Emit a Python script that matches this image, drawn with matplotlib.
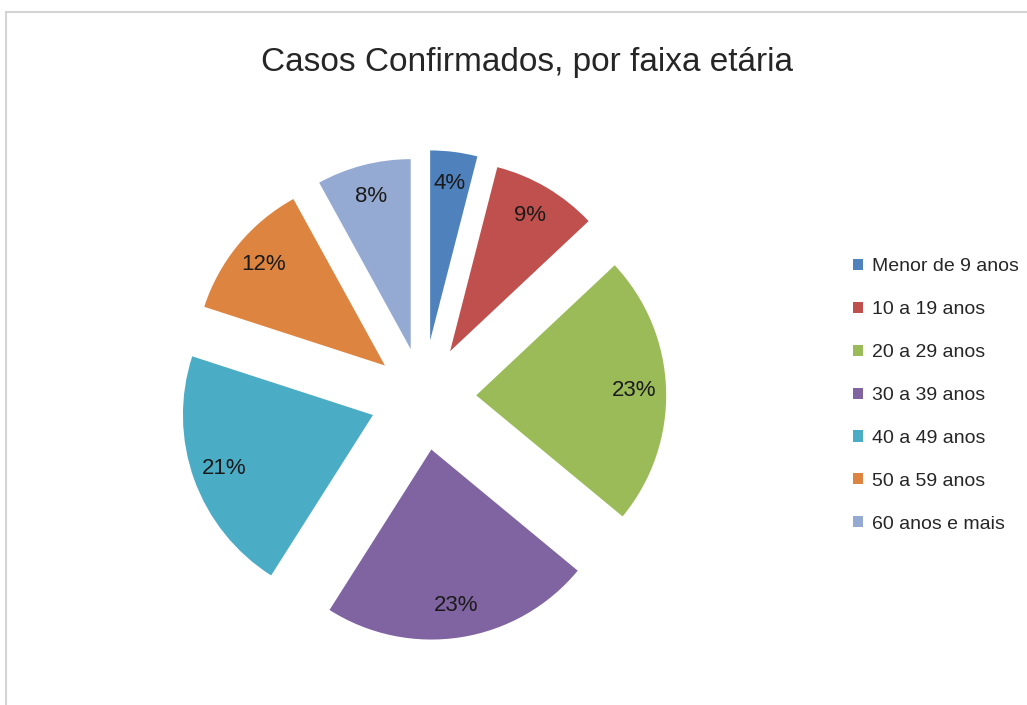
import numpy as np
import matplotlib.pyplot as plt
from matplotlib.patches import Rectangle

plt.rcParams['font.family'] = ['Liberation Sans', 'DejaVu Sans']

# data
faixas = ['Menor de 9 anos', '10 a 19 anos', '20 a 29 anos', '30 a 39 anos',
          '40 a 49 anos', '50 a 59 anos', '60 anos e mais']
percentuais = [4, 9, 23, 23, 21, 12, 8]
cores = ['#4F81BD', '#C0504D', '#9BBB59', '#8064A2', '#4BACC6', '#DD8540', '#95AAD2']
afastamento = [0.30, 0.28, 0.28, 0.28, 0.28, 0.26, 0.26]

W, H = 1027, 705
fig = plt.figure(figsize=(W / 100, H / 100), dpi=100)

# light gray frame around the chart area
fig.patches.append(Rectangle((6 / W, -0.1), 1.2, 1.1 - 12 / H, transform=fig.transFigure,
                             fill=False, edgecolor='#D4D4D4', linewidth=1.5))

# pie placed so that its center sits at (423, 397) px with radius 190 px
cx, cy, r, half = 423, 397, 190, 300
ax = fig.add_axes([(cx - half) / W, (H - cy - half) / H, 2 * half / W, 2 * half / H])
wedges, _, autotexts = ax.pie(percentuais, colors=cores, explode=afastamento,
                              startangle=90, counterclock=False,
                              autopct='%1.0f%%', pctdistance=0.83,
                              wedgeprops=dict(linewidth=0),
                              textprops=dict(fontsize=16, color='#1a1a1a'))
lim = half / r
ax.set_xlim(-lim, lim)
ax.set_ylim(-lim, lim)
ax.set_aspect('equal')
ax.axis('off')

fig.text(527 / W, 1 - 62 / H, 'Casos Confirmados, por faixa etária', fontsize=24,
         ha='center', va='center', color='#262626')

fig.legend(wedges, faixas, loc='center left', bbox_to_anchor=(853 / W, 1 - 395.5 / H),
           frameon=False, fontsize=14, labelspacing=1.33, handlelength=0.5,
           handleheight=0.5, handletextpad=0.5, borderpad=0, borderaxespad=0,
           labelcolor='#262626')

fig.savefig('out.png', dpi=100, facecolor='white')
